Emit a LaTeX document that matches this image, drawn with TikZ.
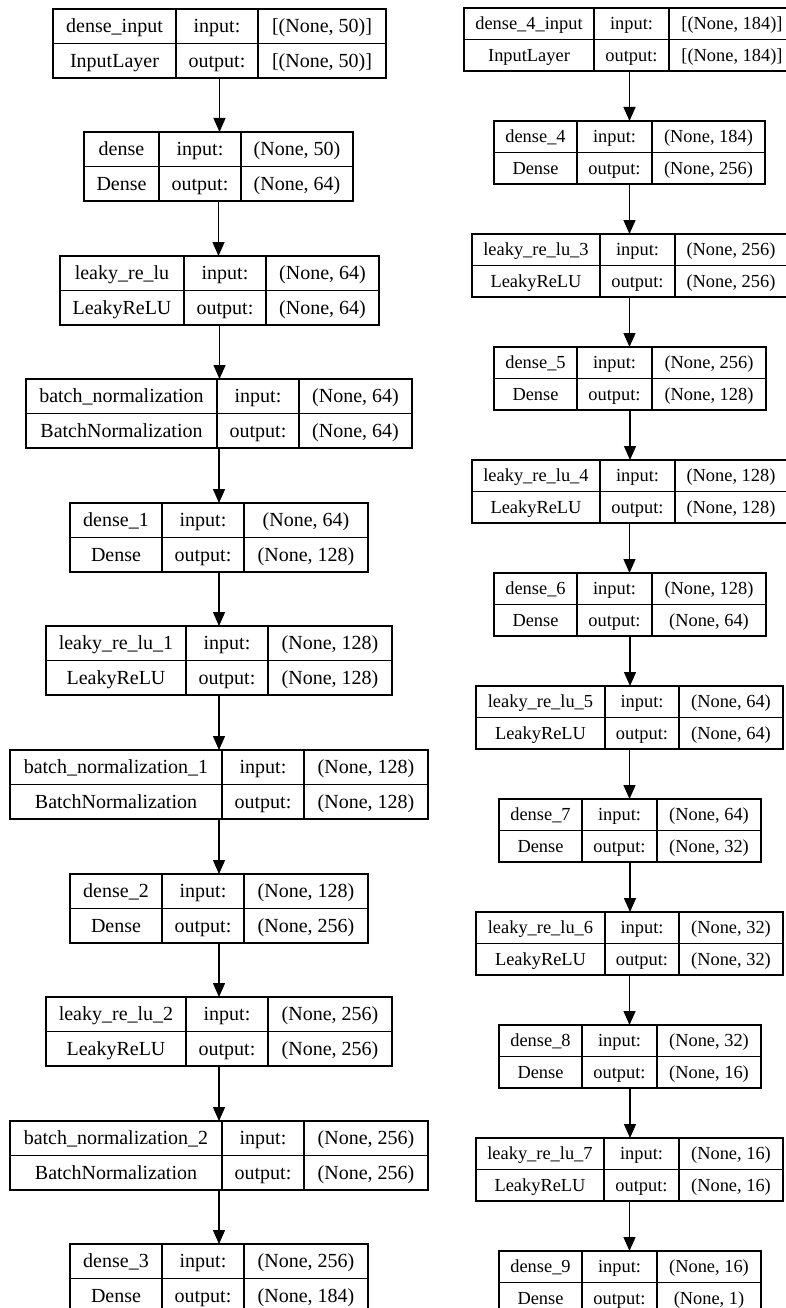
\documentclass[tikz,border=0pt]{standalone}
\usepackage{fontspec}
\setmainfont{Liberation Serif}
\usetikzlibrary{arrows.meta}
\newcommand\layerio[6]{%
  \node[txt] (#1-iv) at ({(#2+#3)/2},{#4+\bh/4}) {#5};
  \node[txt] (#1-ov) at ({(#2+#3)/2},{#4+3*\bh/4}) {#6};}
\newcommand\layerbox[9]{%
  \node[box, minimum width={(#6-#2)*1pt}, minimum height={\bh*1pt}, anchor=north west] (#1) at (#2,#3) {};
  \draw[ln] (#1.west) -- (#1.east);
  \draw[ln] (#4,#3) -- (#4,#3+\bh);
  \draw[ln] (#5,#3) -- (#5,#3+\bh);
  \node[txt] (#1-n) at ({(#2+#4)/2},{#3+\bh/4}) {#7};
  \node[txt] (#1-t) at ({(#2+#4)/2},{#3+3*\bh/4}) {#8};
  \node[txt] (#1-il) at ({(#4+#5)/2},{#3+\bh/4}) {input:};
  \node[txt] (#1-ol) at ({(#4+#5)/2},{#3+3*\bh/4}) {output:};
  \layerio{#1}{#5}{#6}{#3}#9}
\begin{document}
\begin{tikzpicture}[x=1pt,y=-1pt,
  box/.style={draw, line width=1.4pt, inner sep=0pt, outer sep=0pt},
  ln/.style={line width=1.4pt},
  arr/.style={line width=1.4pt, -{Triangle[length=14pt,width=12pt]}}]
\useasboundingbox[fill=white] (0,0) rectangle (786,1308);
\clip (0,0) rectangle (786,1308);
\begin{scope}[txt/.style={font=\fontsize{20}{24}\selectfont, text height=13pt, text depth=0pt, inner sep=0pt}]
\def\bh{69}
\layerbox{L0}{53}{9}{176}{258}{386}{dense\_input}{InputLayer}{{[(None, 50)]}{[(None, 50)]}}
\layerbox{L1}{84}{132}{159}{241}{353}{dense}{Dense}{{(None, 50)}{(None, 64)}}
\layerbox{L2}{60}{256}{184}{266}{379}{leaky\_re\_lu}{LeakyReLU}{{(None, 64)}{(None, 64)}}
\layerbox{L3}{26}{379}{217}{299}{412}{batch\_normalization}{BatchNormalization}{{(None, 64)}{(None, 64)}}
\layerbox{L4}{70}{503}{162}{244}{368}{dense\_1}{Dense}{{(None, 64)}{(None, 128)}}
\layerbox{L5}{46}{626}{186}{268}{392}{leaky\_re\_lu\_1}{LeakyReLU}{{(None, 128)}{(None, 128)}}
\layerbox{L6}{10}{750}{222}{304}{428}{batch\_normalization\_1}{BatchNormalization}{{(None, 128)}{(None, 128)}}
\layerbox{L7}{70}{874}{162}{244}{368}{dense\_2}{Dense}{{(None, 128)}{(None, 256)}}
\layerbox{L8}{46}{997}{186}{268}{392}{leaky\_re\_lu\_2}{LeakyReLU}{{(None, 256)}{(None, 256)}}
\layerbox{L9}{10}{1121}{222}{304}{428}{batch\_normalization\_2}{BatchNormalization}{{(None, 256)}{(None, 256)}}
\layerbox{L10}{70}{1244}{162}{244}{368}{dense\_3}{Dense}{{(None, 256)}{(None, 184)}}
\end{scope}
\begin{scope}[txt/.style={font=\fontsize{18.4}{22}\selectfont, text height=12pt, text depth=0pt, inner sep=0pt}]
\def\bh{63}
\layerbox{R0}{464}{8}{594}{669}{795}{dense\_4\_input}{InputLayer}{{[(None, 184)]}{[(None, 184)]}}
\layerbox{R1}{494}{121}{577}{652}{765}{dense\_4}{Dense}{{(None, 184)}{(None, 256)}}
\layerbox{R2}{472}{234}{600}{675}{787}{leaky\_re\_lu\_3}{LeakyReLU}{{(None, 256)}{(None, 256)}}
\layerbox{R3}{494}{347}{577}{652}{766}{dense\_5}{Dense}{{(None, 256)}{(None, 128)}}
\layerbox{R4}{472}{460}{600}{675}{787}{leaky\_re\_lu\_4}{LeakyReLU}{{(None, 128)}{(None, 128)}}
\layerbox{R5}{494}{573}{577}{652}{766}{dense\_6}{Dense}{{(None, 128)}{(None, 64)}}
\layerbox{R6}{476}{686}{605}{679}{783}{leaky\_re\_lu\_5}{LeakyReLU}{{(None, 64)}{(None, 64)}}
\layerbox{R7}{499}{799}{582}{657}{761}{dense\_7}{Dense}{{(None, 64)}{(None, 32)}}
\layerbox{R8}{476}{912}{605}{679}{783}{leaky\_re\_lu\_6}{LeakyReLU}{{(None, 32)}{(None, 32)}}
\layerbox{R9}{499}{1025}{582}{657}{761}{dense\_8}{Dense}{{(None, 32)}{(None, 16)}}
\layerbox{R10}{476}{1138}{604}{679}{783}{leaky\_re\_lu\_7}{LeakyReLU}{{(None, 16)}{(None, 16)}}
\layerbox{R11}{499}{1251}{582}{657}{761}{dense\_9}{Dense}{{(None, 16)}{(None, 1)}}
\end{scope}
\foreach \a/\b in {L0/L1,L1/L2,L2/L3,L3/L4,L4/L5,L5/L6,L6/L7,L7/L8,L8/L9,L9/L10,
  R0/R1,R1/R2,R2/R3,R3/R4,R4/R5,R5/R6,R6/R7,R7/R8,R8/R9,R9/R10,R10/R11}
  \draw[arr] (\a.south) -- (\a.south |- \b.north);
\end{tikzpicture}
\end{document}
